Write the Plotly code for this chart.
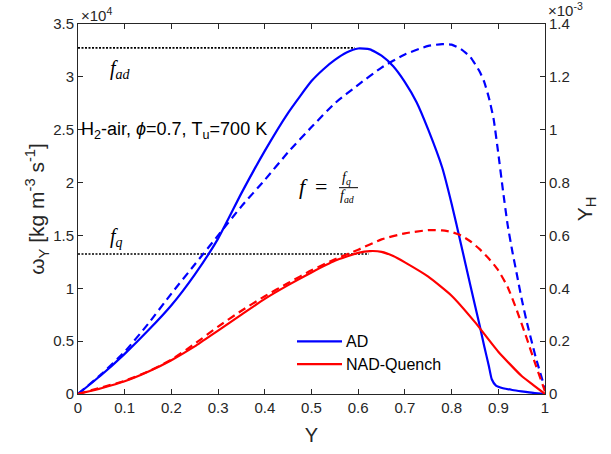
import plotly.graph_objects as go

# ---------------- data ----------------
Y_ad = [0, 0.05, 0.1, 0.15, 0.2, 0.25, 0.3, 0.35, 0.4, 0.45, 0.5, 0.525, 0.55, 0.575, 0.6, 0.625,
        0.65, 0.675, 0.7, 0.725, 0.75, 0.78, 0.8, 0.82, 0.84, 0.86, 0.87, 0.88, 0.886, 0.895,
        0.91, 0.93, 0.95, 0.975, 1.0]
w_ad = [0, 0.18, 0.38, 0.60, 0.84, 1.13, 1.47, 1.90, 2.30, 2.66, 2.96, 3.07, 3.16, 3.23, 3.268, 3.26,
        3.20, 3.10, 2.95, 2.76, 2.50, 2.14, 1.80, 1.42, 1.03, 0.65, 0.45, 0.26, 0.14, 0.08,
        0.055, 0.038, 0.025, 0.01, 0]

Y_nad = [0, 0.05, 0.1, 0.15, 0.2, 0.25, 0.3, 0.35, 0.4, 0.45, 0.5, 0.55, 0.6, 0.625, 0.65,
         0.675, 0.7, 0.75, 0.8, 0.85, 0.9, 0.95, 0.975, 1.0]
w_nad = [0, 0.055, 0.12, 0.21, 0.32, 0.45, 0.60, 0.75, 0.90, 1.03, 1.15, 1.26, 1.335, 1.352, 1.345,
         1.305, 1.245, 1.11, 0.93, 0.68, 0.40, 0.17, 0.085, 0]

Y_h_ad_x = [0, 0.05, 0.1, 0.15, 0.2, 0.25, 0.3, 0.35, 0.4, 0.45, 0.5, 0.55, 0.6, 0.65, 0.7,
            0.75, 0.78, 0.8, 0.82, 0.84, 0.86, 0.87, 0.88, 0.89, 0.9, 0.91, 0.92, 0.93, 0.94,
            0.95, 0.96, 0.98, 1.0]
Y_h_ad = [0, 0.075, 0.16, 0.265, 0.38, 0.49, 0.60, 0.71, 0.81, 0.915, 1.01, 1.10, 1.17, 1.235, 1.285,
          1.317, 1.324, 1.322, 1.305, 1.275, 1.22, 1.18, 1.12, 1.04, 0.91, 0.77, 0.64, 0.54, 0.45,
          0.36, 0.28, 0.14, 0.02]

Y_h_nad_x = [0, 0.05, 0.1, 0.15, 0.2, 0.25, 0.3, 0.35, 0.4, 0.45, 0.5, 0.55, 0.6, 0.65, 0.7,
             0.75, 0.78, 0.8, 0.82, 0.84, 0.86, 0.88, 0.9, 0.92, 0.94, 0.96, 0.98, 1.0]
Y_h_nad = [0, 0.025, 0.05, 0.085, 0.13, 0.19, 0.255, 0.315, 0.37, 0.42, 0.468, 0.51, 0.546, 0.585, 0.608,
           0.62, 0.619, 0.613, 0.60, 0.578, 0.548, 0.512, 0.468, 0.405, 0.315, 0.215, 0.11, 0.01]

f_ad_level = 3.274
f_ad_end = 0.593
f_q_level = 1.325
f_q_end = 0.623

x_ticks = [0, 0.1, 0.2, 0.3, 0.4, 0.5, 0.6, 0.7, 0.8, 0.9, 1]
x_tick_text = ["0", "0.1", "0.2", "0.3", "0.4", "0.5", "0.6", "0.7", "0.8", "0.9", "1"]
yl_ticks = [0, 0.5, 1, 1.5, 2, 2.5, 3, 3.5]
yl_tick_text = ["0", "0.5", "1", "1.5", "2", "2.5", "3", "3.5"]
yr_ticks = [0, 0.2, 0.4, 0.6, 0.8, 1.0, 1.2, 1.4]
yr_tick_text = ["0", "0.2", "0.4", "0.6", "0.8", "1", "1.2", "1.4"]

series_names = ["AD", "NAD-Quench"]

# ---------------- layout helpers ----------------
W, H = 611, 454
L, R, T, B = 78, 545, 23.5, 398.3


def pp(xp, yp):
    return (xp - L) / (R - L), (B - yp) / (B - T)


BLUE = "#0000FF"
RED = "#FF0000"
AX = "#262626"
SANS = "Liberation Sans, Arial, sans-serif"
SERIF = "Liberation Serif, Times New Roman, serif"

fig = go.Figure()

# dotted reference lines
fig.add_trace(go.Scatter(x=[0, f_ad_end], y=[f_ad_level, f_ad_level], mode="lines",
                         line=dict(color="black", width=1.6, dash="2px,1.5px"), showlegend=False,
                         hoverinfo="skip"))
fig.add_trace(go.Scatter(x=[0, f_q_end], y=[f_q_level, f_q_level], mode="lines",
                         line=dict(color="black", width=1.6, dash="2px,1.5px"), showlegend=False,
                         hoverinfo="skip"))

# right-axis dashed curves
fig.add_trace(go.Scatter(x=Y_h_ad_x, y=Y_h_ad, mode="lines", yaxis="y2",
                         line=dict(color=BLUE, width=2.2, dash="8px,5px", shape="spline", smoothing=0.5),
                         showlegend=False))
fig.add_trace(go.Scatter(x=Y_h_nad_x, y=Y_h_nad, mode="lines", yaxis="y2",
                         line=dict(color=RED, width=2.2, dash="8px,5px", shape="spline", smoothing=0.5),
                         showlegend=False))

# left-axis solid curves
fig.add_trace(go.Scatter(x=Y_ad, y=w_ad, mode="lines", name=series_names[0], showlegend=False,
                         line=dict(color=BLUE, width=2.2, shape="spline", smoothing=0.5)))
fig.add_trace(go.Scatter(x=Y_nad, y=w_nad, mode="lines", name=series_names[1], showlegend=False,
                         line=dict(color=RED, width=2.2, shape="spline", smoothing=0.5)))

tickfont = dict(family=SANS, size=15, color=AX)

fig.update_layout(
    width=W, height=H,
    margin=dict(l=L, r=W - R, t=T, b=H - B, pad=0),
    paper_bgcolor="white", plot_bgcolor="white",
    font=dict(family=SANS, color=AX),
    xaxis=dict(range=[0, 1], tickvals=x_ticks, ticktext=x_tick_text, tickfont=tickfont,
               ticks="inside", ticklen=5, tickcolor=AX, showline=True, linecolor=AX, linewidth=1,
               mirror="ticks", showgrid=False, zeroline=False,
               title=dict(text="Y", font=dict(family=SANS, size=20, color=AX), standoff=12)),
    yaxis=dict(range=[0, 3.5], tickvals=yl_ticks, ticktext=yl_tick_text, tickfont=tickfont,
               ticks="inside", ticklen=5, tickcolor=AX, showline=True, linecolor=AX, linewidth=1,
               showgrid=False, zeroline=False,
               title=dict(text="ω<sub>Y</sub> [kg m<sup>-3</sup> s<sup>-1</sup>]",
                          font=dict(family=SANS, size=21, color=AX), standoff=2)),
    yaxis2=dict(range=[0, 1.4], tickvals=yr_ticks, ticktext=yr_tick_text, tickfont=tickfont,
                overlaying="y", side="right",
                ticks="inside", ticklen=5, tickcolor=AX, showline=True, linecolor=AX, linewidth=1,
                showgrid=False, zeroline=False,
                title=dict(text="Y<sub>H</sub>", font=dict(family=SANS, size=21, color=AX), standoff=8)),
    showlegend=False,
)

ann = []


def add(text, xp, yp, size, family=SANS, xanchor="left", yanchor="middle", color="black"):
    x, y = pp(xp, yp)
    ann.append(dict(text=text, x=x, y=y, xref="paper", yref="paper", showarrow=False,
                    xanchor=xanchor, yanchor=yanchor, font=dict(family=family, size=size, color=color)))


add("×10<sup>4</sup>", 79, 14, 15, color=AX)
add("×10<sup>-3</sup>", 546, 9, 15, color=AX)
add("<i>f<sub>ad</sub></i>", 108, 70, 20, family=SERIF)
add("<i>f<sub>q</sub></i>", 108, 240, 20, family=SERIF)
add("H<sub>2</sub>-air, <i>ϕ</i>=0.7, T<sub>u</sub>=700 K", 79, 131, 18)
add("<i>f</i>", 297, 188, 22, family=SERIF)
add("=", 313, 188, 22, family=SERIF)
add("<i>f<sub>q</sub></i>", 340, 180, 14, family=SERIF, yanchor="middle")
add("<i>f<sub>ad</sub></i>", 338, 198, 14, family=SERIF, yanchor="middle")

# manual legend
legend_rows = [(series_names[0], BLUE, 345), (series_names[1], RED, 368)]
for name, col, yp in legend_rows:
    add(name, 344, yp, 16, color="black")
    xa, ya = pp(297, yp)
    xb, _ = pp(342, yp)
    fig.add_shape(type="line", xref="paper", yref="paper", x0=xa, x1=xb, y0=ya, y1=ya,
                  line=dict(color=col, width=2.2))

fig.update_layout(annotations=ann)

x0, y0 = pp(339, 189.3)
x1, _ = pp(358, 189.3)
fig.add_shape(type="line", xref="paper", yref="paper", x0=x0, x1=x1, y0=y0, y1=y0,
              line=dict(color="black", width=1))

fig.write_html("out.html")
